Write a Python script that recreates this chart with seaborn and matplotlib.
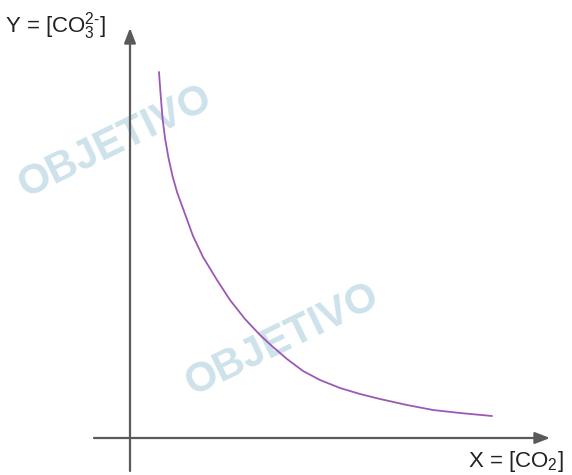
import numpy as np
import pandas as pd
import matplotlib
matplotlib.use("Agg")
import matplotlib.pyplot as plt
import seaborn as sns

# ── data: curve (offsets from the axes origin) ───────────────────────────────
x_co2 = [29, 30.5, 32.5, 35, 38.5, 42.5, 47, 55, 63, 73, 87, 100, 115, 130,
         143, 157, 173, 190, 210, 230, 250, 277, 303, 330, 362]
y_co3 = [366, 345, 320, 300, 280, 262, 246, 224, 202, 181, 158, 138, 119, 103,
         91, 79, 67, 58, 50, 44, 39, 33, 28, 25, 22]

x_label = "X = [CO$_2$]"
y_label = "Y = [CO$_3^{2\\text{-}}$]"
watermark = "OBJETIVO"

sns.set_style("white")
plt.rcParams["font.family"] = ["Liberation Sans", "DejaVu Sans"]
plt.rcParams["mathtext.fontset"] = "custom"
plt.rcParams["mathtext.rm"] = "Liberation Sans"
plt.rcParams["mathtext.it"] = "Liberation Sans"

AXIS_GREY = "#5a5a5a"
CURVE = "#9b59b6"
WM = "#cde2ea"

fig = plt.figure(figsize=(5.72, 4.75), dpi=100)
ax = fig.add_axes([0, 0, 1, 1])
ax.set_xlim(-130, 442)
ax.set_ylim(-37, 438)
ax.axis("off")

# ── faint watermarks ───────────────────────────────────────────────────────
for (wx, wy) in [(-15, 296), (152, 98)]:
    ax.text(wx, wy, watermark, color=WM, fontsize=30, fontweight="bold",
            rotation=26, ha="center", va="center", zorder=0)

# ── axes with arrowheads ───────────────────────────────────────────────────
arrow = dict(arrowstyle="-|>,head_length=0.9,head_width=0.35",
             color=AXIS_GREY, lw=1.6, shrinkA=0, shrinkB=0)
ax.annotate("", xy=(0, 410), xytext=(0, -33), arrowprops=arrow, zorder=2)
ax.annotate("", xy=(420, 0), xytext=(-36, 0), arrowprops=arrow, zorder=2)

# ── curve ──────────────────────────────────────────────────────────────────
df = pd.DataFrame({"x": x_co2, "y": y_co3})
sns.lineplot(data=df, x="x", y="y", ax=ax, color=CURVE, lw=1.3,
             sort=False, zorder=3)
ax.set_xlabel("")
ax.set_ylabel("")

# ── labels ─────────────────────────────────────────────────────────────────
ax.text(-125, 406, y_label, fontsize=16, color="#222222",
        ha="left", va="baseline")
ax.text(338, -29, x_label, fontsize=16, color="#222222",
        ha="left", va="baseline")

fig.savefig("out.png", dpi=100)
